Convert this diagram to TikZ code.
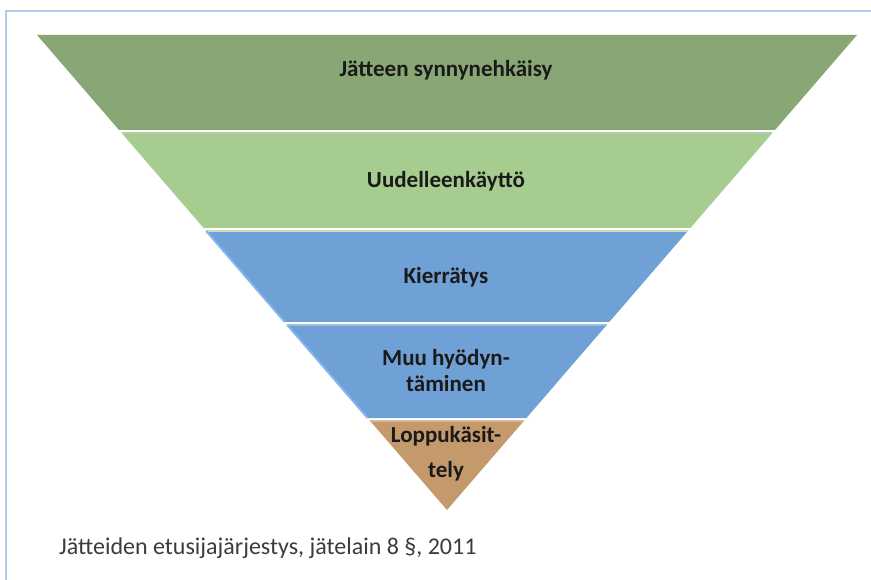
\documentclass[tikz,border=0pt]{standalone}
\usepackage{fontspec}
\setmainfont{Carlito}
\usepackage{xcolor}
\usepackage{tikz}
\usetikzlibrary{positioning,calc}
\definecolor{verdeosc}{RGB}{137,167,117}
\definecolor{verdeclaro}{RGB}{166,204,143}
\definecolor{azul}{RGB}{111,160,214}
\definecolor{azulclaro}{RGB}{130,182,236}
\definecolor{marron}{RGB}{196,154,108}
\definecolor{marco}{RGB}{180,203,234}
\definecolor{texto}{RGB}{26,26,26}
\definecolor{leyenda}{RGB}{60,60,60}

\begin{document}
\begin{tikzpicture}[x=1pt,y=-1pt,
  etiqueta/.style={font=\bfseries\fontsize{23}{26}\selectfont,text=texto,align=center,inner sep=0pt},
  brillo/.style={line width=2pt}]
\useasboundingbox[fill=white] (0,0) rectangle (871,580);
% marco
\draw[marco,line width=1.5pt] (6,580) -- (6,11) -- (871,11);
% capas de la piramide
\fill[verdeosc] (37,35) -- (857,35) -- (775,130) -- (119,130) -- cycle;
\fill[verdeclaro] (121.6,133) -- (772.4,133) -- (690.4,228) -- (203.6,228) -- cycle;
\fill[azul] (206.2,231) -- (687.8,231) -- (609.3,322) -- (284.7,322) -- cycle;
\fill[azul] (287.3,325) -- (606.7,325) -- (526.4,418) -- (367.6,418) -- cycle;
\fill[marron] (370.2,421) -- (523.8,421) -- (447,510) -- cycle;
% bordes claros
\draw[brillo,verdeosc!60!white] (121.6,133) -- (772.4,133);
\draw[brillo,verdeclaro!60!white] (206.2,231) -- (687.8,231);
\draw[brillo,azul!70!white] (287.3,325) -- (606.7,325);
\draw[brillo,marron!70!white] (370.2,421) -- (523.8,421);
\draw[brillo,azulclaro] (206.2,231) -- (284.7,322);
\draw[brillo,azulclaro] (287.3,325) -- (367.6,418);
% textos
\node[etiqueta] (prevencion) at (446,70) {Jätteen synnynehkäisy};
\node[etiqueta] (reutilizacion) at (446,181) {Uudelleenkäyttö};
\node[etiqueta] (reciclaje) at (446,277) {Kierrätys};
\node[etiqueta] (valorizacion) at (446,371) {Muu hyödyn-\\täminen};
\node[etiqueta] (eliminacion) at (446,454) {Loppukäsit-\\[9pt]tely};
\node[font=\fontsize{24}{28}\selectfont,text=leyenda,anchor=west,inner sep=0pt] (fuente) at (59,548)
{Jätteiden etusijajärjestys, jätelain 8 §, 2011};
\end{tikzpicture}
\end{document}
